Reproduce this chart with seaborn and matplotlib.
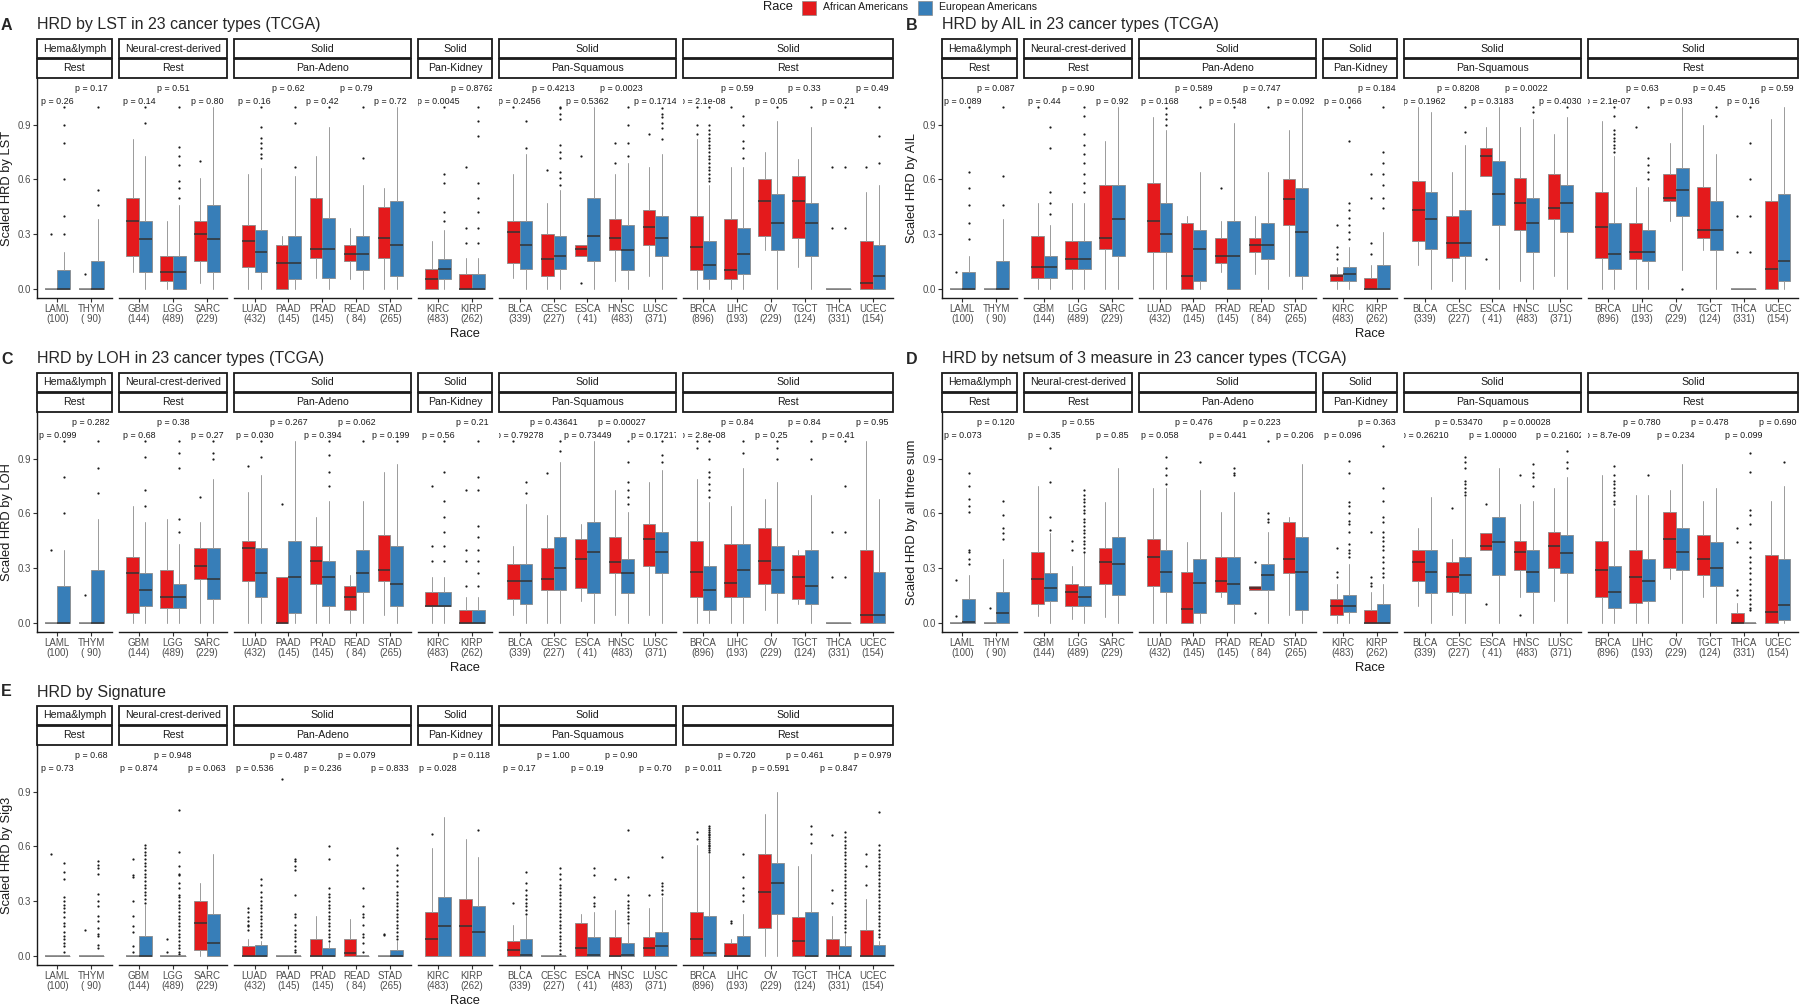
import seaborn as sns
import matplotlib.pyplot as plt
from matplotlib.patches import Rectangle

# ---- categories ----
cancers = ["LAML", "THYM", "GBM", "LGG", "SARC", "LUAD", "PAAD", "PRAD", "READ", "STAD",
           "KIRC", "KIRP", "BLCA", "CESC", "ESCA", "HNSC", "LUSC",
           "BRCA", "LIHC", "OV", "TGCT", "THCA", "UCEC"]
counts = [100, 90, 144, 489, 229, 432, 145, 145, 84, 265, 483, 262,
          339, 227, 41, 483, 371, 896, 193, 229, 124, 331, 154]
strip_top = ["Hema&lymph", "Neural-crest-derived", "Solid", "Solid", "Solid", "Solid"]
strip_bottom = ["Rest", "Rest", "Pan-Adeno", "Pan-Kidney", "Pan-Squamous", "Rest"]
group_sizes = [2, 3, 5, 2, 5, 6]

# box stats per cancer: (whisker low, q1, median, q3, whisker high)
# ---- A: LST ----
lst_aa = [(0, 0, 0, 0, 0), (0, 0, 0, 0, 0), (0.09, 0.18, 0.37, 0.50, 0.82), (0, 0.04, 0.09, 0.18, 0.37),
          (0.03, 0.15, 0.30, 0.37, 0.61), (0, 0.12, 0.26, 0.35, 0.63), (0, 0, 0.14, 0.24, 0.29),
          (0.06, 0.17, 0.22, 0.50, 0.73), (0.05, 0.15, 0.19, 0.24, 0.33), (0, 0.17, 0.28, 0.45, 0.55),
          (0, 0, 0.055, 0.11, 0.26), (0, 0, 0, 0.08, 0.17), (0.06, 0.14, 0.31, 0.37, 0.63),
          (0, 0.07, 0.16, 0.30, 0.47), (0.18, 0.18, 0.22, 0.24, 0.24), (0.04, 0.21, 0.28, 0.38, 0.63),
          (0.07, 0.24, 0.34, 0.43, 0.67), (0, 0.10, 0.23, 0.40, 0.82), (0, 0.05, 0.10, 0.38, 0.67),
          (0.21, 0.29, 0.48, 0.60, 0.75), (0.12, 0.28, 0.48, 0.62, 0.71), (0, 0, 0, 0, 0),
          (0, 0, 0.03, 0.26, 0.53)]
lst_ea = [(0, 0, 0, 0.10, 0.20), (0, 0, 0, 0.15, 0.38), (0, 0.09, 0.27, 0.37, 0.73), (0, 0, 0.09, 0.18, 0.46),
          (0, 0.09, 0.27, 0.46, 1.0), (0, 0.09, 0.20, 0.32, 0.66), (0, 0.05, 0.14, 0.29, 0.62),
          (0, 0.06, 0.22, 0.39, 0.89), (0, 0.10, 0.19, 0.29, 0.57), (0, 0.07, 0.24, 0.48, 1.0),
          (0, 0.055, 0.11, 0.16, 0.32), (0, 0, 0, 0.08, 0.17), (0, 0.11, 0.24, 0.37, 0.74),
          (0, 0.11, 0.18, 0.29, 0.54), (0, 0.15, 0.29, 0.50, 1.0), (0, 0.10, 0.21, 0.35, 0.69),
          (0, 0.18, 0.28, 0.40, 0.74), (0, 0.05, 0.13, 0.26, 0.57), (0, 0.08, 0.19, 0.33, 0.67),
          (0, 0.21, 0.36, 0.52, 0.92), (0, 0.18, 0.36, 0.47, 0.89), (0, 0, 0, 0, 0),
          (0, 0, 0.07, 0.24, 0.57)]
lst_aa_out = {"LAML": [0.30], "THYM": [0.08], "SARC": [0.70], "KIRP": [0.25, 0.33, 0.67], "BLCA": [1.0],
              "CESC": [0.65], "ESCA": [0.03, 0.73], "HNSC": [0.69, 0.80], "LUSC": [0.85],
              "BRCA": [0.85, 0.90, 1.0], "LIHC": [1.0], "THCA": [0.33, 0.67], "UCEC": [0.67]}
lst_ea_out = {"LAML": [0.30, 0.40, 0.60, 0.80, 0.90, 1.0], "THYM": [0.46, 0.54, 1.0], "GBM": [0.91, 1.0],
              "LGG": [0.50, 0.55, 0.59, 0.68, 0.73, 0.78, 1.0],
              "LUAD": [0.72, 0.74, 0.77, 0.80, 0.83, 0.89, 1.0], "PAAD": [0.67, 0.91, 1.0],
              "PRAD": [1.0], "READ": [0.72, 1.0], "KIRC": [0.37, 0.42, 0.58, 0.63, 1.0],
              "KIRP": [0.25, 0.33, 0.42, 0.50, 0.58, 0.84, 0.92, 1.0], "BLCA": [0.77, 0.92],
              "CESC": [0.57, 0.61, 0.64, 0.72, 0.75, 0.79, 0.93, 0.96, 0.99, 1.0],
              "HNSC": [0.73, 0.80, 0.90, 1.0], "LUSC": [0.82, 0.88, 0.91, 0.94, 0.96, 0.99],
              "BRCA": [0.59, 0.61, 0.63, 0.65, 0.67, 0.69, 0.71, 0.73, 0.75, 0.77, 0.79, 0.81,
                       0.83, 0.85, 0.87, 0.90, 1.0],
              "LIHC": [0.72, 0.77, 0.81, 0.90, 0.95], "OV": [1.0], "TGCT": [1.0],
              "THCA": [0.33, 0.67, 1.0], "UCEC": [0.69, 0.84, 1.0]}
lst_p = ["0.26", "0.17", "0.14", "0.51", "0.80", "0.16", "0.62", "0.42", "0.79", "0.72", "0.0045",
         "0.8762", "0.2456", "0.4213", "0.5362", "0.0023", "0.1714", "2.1e-08", "0.59", "0.05",
         "0.33", "0.21", "0.49"]

# ---- B: AIL ----
ail_aa = [(0, 0, 0, 0, 0), (0, 0, 0, 0, 0), (0, 0.06, 0.12, 0.29, 0.47), (0, 0.11, 0.16, 0.26, 0.47),
          (0, 0.22, 0.28, 0.57, 0.81), (0, 0.20, 0.37, 0.58, 0.94), (0, 0, 0.07, 0.36, 0.40),
          (0.09, 0.14, 0.18, 0.28, 0.37), (0.08, 0.20, 0.24, 0.28, 0.40), (0.07, 0.35, 0.49, 0.60, 0.87),
          (0, 0.04, 0.07, 0.08, 0.12), (0, 0, 0, 0.06, 0.13), (0.13, 0.26, 0.43, 0.59, 1.0),
          (0.04, 0.17, 0.25, 0.40, 0.64), (0.62, 0.62, 0.73, 0.77, 0.89), (0.04, 0.32, 0.47, 0.61, 0.89),
          (0.07, 0.38, 0.44, 0.63, 0.85), (0, 0.17, 0.34, 0.53, 0.92), (0, 0.16, 0.20, 0.36, 0.56),
          (0.37, 0.48, 0.50, 0.63, 0.80), (0.21, 0.28, 0.32, 0.56, 0.90), (0, 0, 0, 0, 0),
          (0, 0, 0.11, 0.48, 0.93)]
ail_ea = [(0, 0, 0, 0.09, 0.18), (0, 0, 0, 0.15, 0.38), (0, 0.06, 0.12, 0.18, 0.35), (0, 0.11, 0.16, 0.26, 0.47),
          (0, 0.18, 0.38, 0.57, 1.0), (0, 0.20, 0.30, 0.47, 0.87), (0, 0.04, 0.22, 0.32, 0.64),
          (0, 0, 0.18, 0.37, 0.91), (0, 0.16, 0.24, 0.36, 0.64), (0, 0.07, 0.31, 0.55, 1.0),
          (0, 0.04, 0.08, 0.12, 0.23), (0, 0, 0, 0.13, 0.31), (0, 0.22, 0.38, 0.53, 0.97),
          (0, 0.18, 0.25, 0.43, 0.79), (0, 0.35, 0.52, 0.70, 1.0), (0, 0.20, 0.36, 0.50, 0.93),
          (0, 0.31, 0.47, 0.57, 0.94), (0, 0.11, 0.19, 0.36, 0.73), (0, 0.15, 0.20, 0.32, 0.56),
          (0.10, 0.40, 0.54, 0.66, 1.0), (0, 0.21, 0.32, 0.48, 0.74), (0, 0, 0, 0, 0),
          (0, 0.04, 0.15, 0.52, 1.0)]
ail_aa_out = {"LAML": [0.09], "GBM": [1.0], "PRAD": [0.55], "KIRC": [0.16, 0.19, 0.23, 0.35],
              "KIRP": [0.19, 0.25, 0.50, 0.63], "ESCA": [0.16], "LIHC": [0.89], "THCA": [0.20, 0.40]}
ail_ea_out = {"LAML": [0.27, 0.36, 0.46, 0.55, 0.64, 1.0], "THYM": [0.46, 0.62, 1.0],
              "GBM": [0.41, 0.47, 0.53, 0.77, 0.89],
              "LGG": [0.53, 0.58, 0.63, 0.69, 0.74, 0.79, 0.85, 0.95, 1.0],
              "LUAD": [0.90, 0.93, 0.96, 0.99], "PAAD": [1.0], "PRAD": [1.0], "READ": [1.0],
              "KIRC": [0.27, 0.31, 0.35, 0.39, 0.43, 0.47, 0.81, 1.0],
              "KIRP": [0.44, 0.50, 0.57, 0.63, 0.69, 0.75, 1.0], "CESC": [0.86, 1.0],
              "HNSC": [0.97, 1.0], "LUSC": [1.0],
              "BRCA": [0.75, 0.77, 0.79, 0.81, 0.83, 0.85, 0.87, 0.95, 1.0],
              "LIHC": [0.60, 0.64, 0.68, 0.72, 1.0], "OV": [0.0], "TGCT": [0.95, 1.0],
              "THCA": [0.20, 0.40, 0.60, 0.80, 1.0]}
ail_p = ["0.089", "0.087", "0.44", "0.90", "0.92", "0.168", "0.589", "0.548", "0.747", "0.092", "0.066",
         "0.184", "0.1962", "0.8208", "0.3183", "0.0022", "0.4030", "2.1e-07", "0.63", "0.93",
         "0.45", "0.16", "0.59"]

# ---- C: LOH ----
loh_aa = [(0, 0, 0, 0, 0), (0, 0, 0, 0, 0), (0, 0.05, 0.27, 0.36, 0.64), (0, 0.08, 0.14, 0.29, 0.57),
          (0, 0.24, 0.31, 0.41, 0.55), (0, 0.23, 0.41, 0.45, 0.72), (0, 0, 0, 0.25, 0.25),
          (0, 0.21, 0.34, 0.42, 0.58), (0, 0.07, 0.14, 0.20, 0.26), (0.04, 0.23, 0.29, 0.48, 0.83),
          (0, 0.09, 0.09, 0.17, 0.25), (0, 0, 0, 0.07, 0.14), (0.04, 0.13, 0.23, 0.32, 0.42),
          (0, 0.18, 0.24, 0.41, 0.59), (0.12, 0.19, 0.35, 0.46, 0.54), (0.04, 0.27, 0.33, 0.47, 0.73),
          (0.04, 0.31, 0.46, 0.54, 0.77), (0, 0.14, 0.28, 0.45, 0.79), (0, 0.14, 0.22, 0.43, 0.64),
          (0.07, 0.21, 0.34, 0.52, 0.68), (0.10, 0.13, 0.25, 0.37, 0.40), (0, 0, 0, 0, 0),
          (0, 0, 0.04, 0.40, 1.0)]
loh_ea = [(0, 0, 0, 0.20, 0.40), (0, 0, 0, 0.29, 0.57), (0, 0.09, 0.18, 0.27, 0.55), (0, 0.08, 0.14, 0.21, 0.43),
          (0, 0.13, 0.24, 0.41, 0.79), (0, 0.14, 0.27, 0.41, 0.81), (0, 0.05, 0.25, 0.45, 1.0),
          (0, 0.09, 0.25, 0.34, 0.67), (0, 0.17, 0.27, 0.40, 0.67), (0, 0.09, 0.21, 0.42, 0.87),
          (0, 0.09, 0.09, 0.17, 0.25), (0, 0, 0, 0.07, 0.14), (0, 0.10, 0.23, 0.32, 0.65),
          (0, 0.18, 0.30, 0.47, 0.88), (0, 0.16, 0.39, 0.55, 1.0), (0, 0.16, 0.27, 0.35, 0.61),
          (0, 0.27, 0.39, 0.50, 0.84), (0, 0.07, 0.18, 0.31, 0.66), (0, 0.14, 0.29, 0.43, 0.85),
          (0, 0.16, 0.29, 0.42, 0.77), (0, 0.10, 0.20, 0.40, 0.70), (0, 0, 0, 0, 0),
          (0, 0, 0.04, 0.28, 0.68)]
loh_aa_out = {"LAML": [0.40], "THYM": [0.15], "SARC": [0.69], "LUAD": [0.86], "PAAD": [0.65],
              "KIRC": [0.34, 0.42, 0.75], "KIRP": [0.20, 0.34, 0.40, 0.73], "BLCA": [1.0],
              "CESC": [0.82], "BRCA": [0.96, 1.0], "THCA": [0.25, 0.50]}
loh_ea_out = {"LAML": [0.60, 0.80, 1.0], "THYM": [0.71, 0.85, 1.0], "GBM": [0.64, 0.73, 0.91, 1.0],
              "LGG": [0.50, 0.57, 0.85, 0.93, 1.0], "SARC": [0.90, 0.93, 1.0], "LUAD": [0.91, 1.0],
              "PRAD": [0.75, 0.83, 0.92, 1.0], "READ": [1.0], "STAD": [1.0],
              "KIRC": [0.34, 0.42, 0.50, 0.58, 0.67, 0.83, 1.0],
              "KIRP": [0.20, 0.27, 0.34, 0.40, 0.47, 0.53, 0.73, 0.80, 1.0], "BLCA": [0.71, 0.77],
              "CESC": [0.94, 1.0], "HNSC": [0.65, 0.69, 0.73, 0.77, 0.88, 1.0],
              "LUSC": [0.88, 0.92, 1.0], "BRCA": [0.69, 0.73, 0.76, 0.80, 0.83, 0.90, 1.0],
              "LIHC": [0.93, 1.0], "OV": [0.90, 0.96, 1.0], "TGCT": [0.90, 1.0],
              "THCA": [0.25, 0.50, 0.75, 1.0]}
loh_p = ["0.099", "0.282", "0.68", "0.38", "0.27", "0.030", "0.267", "0.394", "0.062", "0.199", "0.56",
         "0.21", "0.79278", "0.43641", "0.73449", "0.00027", "0.17217", "2.8e-08", "0.84", "0.25",
         "0.84", "0.41", "0.95"]

# ---- D: netsum of 3 measures ----
net_aa = [(0, 0, 0, 0, 0), (0, 0, 0, 0, 0), (0.035, 0.10, 0.24, 0.39, 0.75), (0.02, 0.09, 0.17, 0.21, 0.31),
          (0.03, 0.21, 0.33, 0.41, 0.66), (0, 0.20, 0.36, 0.46, 0.74), (0, 0, 0.075, 0.28, 0.44),
          (0.14, 0.17, 0.23, 0.36, 0.61), (0.18, 0.18, 0.19, 0.20, 0.20), (0.04, 0.27, 0.35, 0.55, 0.58),
          (0, 0.04, 0.09, 0.13, 0.21), (0, 0, 0, 0.07, 0.17), (0.09, 0.23, 0.33, 0.40, 0.52),
          (0.04, 0.17, 0.25, 0.33, 0.46), (0.40, 0.40, 0.42, 0.49, 0.49), (0.14, 0.29, 0.39, 0.45, 0.65),
          (0.12, 0.30, 0.42, 0.50, 0.74), (0, 0.14, 0.29, 0.45, 0.81), (0, 0.11, 0.25, 0.40, 0.70),
          (0.24, 0.30, 0.46, 0.61, 0.73), (0.14, 0.26, 0.35, 0.48, 0.67), (0, 0, 0, 0.05, 0.11),
          (0, 0, 0.06, 0.37, 0.67)]
net_ea = [(0, 0, 0.004, 0.13, 0.26), (0, 0, 0.05, 0.17, 0.35), (0, 0.12, 0.19, 0.27, 0.49),
          (0, 0.09, 0.14, 0.20, 0.38), (0, 0.15, 0.32, 0.47, 0.85), (0, 0.17, 0.28, 0.40, 0.74),
          (0, 0.05, 0.22, 0.35, 0.73), (0, 0.10, 0.21, 0.36, 0.72), (0, 0.18, 0.26, 0.32, 0.50),
          (0, 0.07, 0.28, 0.47, 0.87), (0, 0.06, 0.09, 0.15, 0.32), (0, 0, 0, 0.10, 0.21),
          (0, 0.16, 0.28, 0.40, 0.69), (0, 0.16, 0.26, 0.36, 0.69), (0, 0.26, 0.44, 0.58, 0.85),
          (0, 0.17, 0.28, 0.40, 0.67), (0, 0.27, 0.38, 0.48, 0.80), (0, 0.08, 0.17, 0.31, 0.63),
          (0, 0.12, 0.23, 0.35, 0.70), (0, 0.29, 0.39, 0.52, 0.87), (0, 0.20, 0.30, 0.44, 0.74),
          (0, 0, 0, 0, 0), (0, 0.015, 0.095, 0.35, 0.75)]
net_aa_out = {"LAML": [0.035, 0.235], "THYM": [0.08], "LGG": [0.40, 0.45], "READ": [0.05, 0.33],
              "KIRC": [0.25, 0.28, 0.41], "KIRP": [0.20, 0.22, 0.25, 0.50], "CESC": [0.63],
              "ESCA": [0.10, 0.65], "HNSC": [0.04, 0.81], "THCA": [0.15, 0.18, 0.44, 0.52]}
net_ea_out = {"LAML": [0.32, 0.35, 0.39, 0.40, 0.61, 0.64, 0.68, 0.75, 0.82],
              "THYM": [0.46, 0.49, 0.52, 0.59, 0.67], "GBM": [0.51, 0.58, 0.77, 0.96],
              "LGG": [0.39, 0.41, 0.43, 0.45, 0.47, 0.49, 0.51, 0.53, 0.55, 0.57, 0.60, 0.62, 0.64,
                      0.66, 0.68, 0.70, 0.73],
              "LUAD": [0.76, 0.81, 0.85, 0.91], "PAAD": [0.88], "PRAD": [0.81, 0.82, 0.85],
              "READ": [0.55, 0.57, 0.60, 1.0],
              "KIRC": [0.36, 0.38, 0.40, 0.43, 0.50, 0.54, 0.56, 0.60, 0.64, 0.66, 0.82, 0.89],
              "KIRP": [0.25, 0.27, 0.30, 0.33, 0.36, 0.40, 0.42, 0.45, 0.47, 0.50, 0.55, 0.58, 0.67,
                       0.74, 0.97],
              "CESC": [0.70, 0.72, 0.74, 0.76, 0.78, 0.85, 0.88, 0.91], "HNSC": [0.75, 0.80, 0.82, 0.87],
              "LUSC": [0.85, 0.88, 0.94],
              "BRCA": [0.65, 0.67, 0.70, 0.72, 0.74, 0.76, 0.78, 0.81, 0.86], "LIHC": [0.81],
              "THCA": [0.07, 0.08, 0.10, 0.13, 0.15, 0.18, 0.21, 0.24, 0.27, 0.30, 0.33, 0.36, 0.41,
                       0.44, 0.54, 0.59, 0.62, 0.83, 0.93],
              "UCEC": [0.88]}
net_p = ["0.073", "0.120", "0.35", "0.55", "0.85", "0.058", "0.476", "0.441", "0.223", "0.206", "0.096",
         "0.363", "0.26210", "0.53470", "1.00000", "0.00028", "0.21602", "8.7e-09", "0.780", "0.234",
         "0.478", "0.099", "0.690"]

# ---- E: Signature 3 ----
sig_aa = [(0, 0, 0, 0, 0), (0, 0, 0, 0, 0), (0, 0, 0, 0, 0), (0, 0, 0, 0, 0), (0, 0.03, 0.18, 0.30, 0.40),
          (0, 0, 0, 0.05, 0.09), (0, 0, 0, 0, 0), (0, 0, 0, 0.09, 0.22), (0, 0, 0.015, 0.09, 0.20),
          (0, 0, 0, 0, 0), (0, 0, 0.09, 0.24, 0.59), (0, 0, 0.16, 0.31, 0.64), (0, 0, 0.03, 0.08, 0.17),
          (0, 0, 0, 0, 0), (0, 0, 0.04, 0.18, 0.23), (0, 0, 0, 0.10, 0.25), (0, 0, 0.04, 0.10, 0.26),
          (0, 0, 0.09, 0.24, 0.61), (0, 0, 0, 0.07, 0.09), (0, 0.15, 0.35, 0.56, 0.78),
          (0, 0, 0.08, 0.21, 0.49), (0, 0, 0, 0.09, 0.22), (0, 0, 0, 0.14, 0.31)]
sig_ea = [(0, 0, 0, 0, 0), (0, 0, 0, 0, 0), (0, 0, 0, 0.11, 0.28), (0, 0, 0, 0, 0), (0, 0, 0.07, 0.23, 0.56),
          (0, 0, 0, 0.06, 0.08), (0, 0, 0, 0, 0), (0, 0, 0, 0.04, 0.07), (0, 0, 0, 0, 0),
          (0, 0, 0, 0.03, 0.08), (0, 0, 0.16, 0.32, 0.76), (0, 0, 0.13, 0.27, 0.54),
          (0, 0, 0.004, 0.09, 0.22), (0, 0, 0, 0, 0), (0, 0, 0.004, 0.10, 0.24), (0, 0, 0.004, 0.07, 0.17),
          (0, 0, 0.055, 0.13, 0.32), (0, 0, 0.015, 0.22, 0.56), (0, 0, 0, 0.11, 0.23),
          (0, 0.23, 0.40, 0.51, 0.90), (0, 0, 0, 0.24, 0.56), (0, 0, 0, 0.05, 0.12), (0, 0, 0, 0.06, 0.08)]
sig_aa_out = {"LAML": [0.56], "THYM": [0.14], "GBM": [0.02, 0.05, 0.13, 0.16, 0.22, 0.30, 0.43, 0.44, 0.53],
              "LGG": [0.02, 0.09], "LUAD": [0.14, 0.16, 0.17, 0.19, 0.21, 0.24, 0.26], "PAAD": [0.97],
              "STAD": [0.115, 0.12], "KIRC": [0.67], "BLCA": [0.29], "HNSC": [0.42], "LUSC": [0.33],
              "BRCA": [0.64, 0.68], "LIHC": [0.18, 0.19], "THCA": [0.29, 0.36, 0.66],
              "UCEC": [0.39, 0.49, 0.56]}
sig_ea_out = {"LAML": [0.02, 0.05, 0.07, 0.09, 0.11, 0.13, 0.16, 0.18, 0.21, 0.24, 0.26, 0.28, 0.30, 0.32,
                       0.42, 0.46, 0.51],
              "THYM": [0.04, 0.06, 0.11, 0.12, 0.15, 0.19, 0.22, 0.27, 0.30, 0.34, 0.45, 0.48, 0.50, 0.52],
              "GBM": [0.29, 0.31, 0.33, 0.35, 0.37, 0.39, 0.41, 0.43, 0.45, 0.47, 0.49, 0.51, 0.53, 0.55,
                      0.57, 0.59, 0.61],
              "LGG": [0.01, 0.02, 0.04, 0.06, 0.08, 0.10, 0.12, 0.14, 0.16, 0.18, 0.20, 0.22, 0.24, 0.26,
                      0.28, 0.30, 0.32, 0.33, 0.37, 0.40, 0.44, 0.45, 0.49, 0.57, 0.80],
              "LUAD": [0.10, 0.12, 0.14, 0.16, 0.18, 0.20, 0.22, 0.24, 0.26, 0.28, 0.30, 0.32, 0.35, 0.39, 0.42],
              "PAAD": [0.02, 0.03, 0.05, 0.08, 0.10, 0.12, 0.14, 0.17, 0.21, 0.23, 0.33, 0.47, 0.49, 0.52, 0.53],
              "PRAD": [0.08, 0.10, 0.12, 0.14, 0.16, 0.18, 0.20, 0.22, 0.24, 0.26, 0.28, 0.30, 0.32, 0.34,
                       0.37, 0.53, 0.60],
              "READ": [0.02, 0.07, 0.10, 0.12, 0.17, 0.21, 0.23, 0.27, 0.37],
              "STAD": [0.09, 0.11, 0.13, 0.15, 0.17, 0.19, 0.21, 0.23, 0.25, 0.27, 0.29, 0.31, 0.33, 0.35,
                       0.38, 0.41, 0.44, 0.47, 0.50, 0.55, 0.59],
              "KIRP": [0.69],
              "BLCA": [0.23, 0.25, 0.27, 0.29, 0.31, 0.33, 0.36, 0.40, 0.46],
              "CESC": [0.01, 0.03, 0.05, 0.07, 0.09, 0.11, 0.13, 0.15, 0.17, 0.19, 0.21, 0.23, 0.25, 0.27,
                       0.29, 0.31, 0.33, 0.35, 0.37, 0.39, 0.42, 0.45, 0.48],
              "ESCA": [0.27, 0.29, 0.32, 0.44, 0.48],
              "HNSC": [0.18, 0.20, 0.22, 0.24, 0.26, 0.28, 0.30, 0.33, 0.43, 0.69],
              "LUSC": [0.34, 0.36, 0.38, 0.40, 0.54],
              "BRCA": [0.57, 0.58, 0.59, 0.60, 0.61, 0.62, 0.63, 0.64, 0.65, 0.66, 0.67, 0.68, 0.69, 0.70, 0.71],
              "LIHC": [0.30, 0.33, 0.37, 0.43, 0.56], "TGCT": [0.62, 0.67, 0.71],
              "THCA": [0.13, 0.15, 0.17, 0.19, 0.21, 0.23, 0.25, 0.27, 0.29, 0.31, 0.33, 0.35, 0.37, 0.39,
                       0.41, 0.43, 0.45, 0.47, 0.49, 0.51, 0.53, 0.55, 0.57, 0.59, 0.61, 0.63, 0.65, 0.68],
              "UCEC": [0.10, 0.12, 0.14, 0.16, 0.18, 0.20, 0.22, 0.24, 0.26, 0.28, 0.30, 0.32, 0.34, 0.36,
                       0.38, 0.40, 0.42, 0.44, 0.46, 0.48, 0.50, 0.52, 0.54, 0.56, 0.58, 0.61, 0.79]}
sig_p = ["0.73", "0.68", "0.874", "0.948", "0.063", "0.536", "0.487", "0.236", "0.079", "0.833", "0.028",
         "0.118", "0.17", "1.00", "0.19", "0.90", "0.70", "0.011", "0.720", "0.591", "0.461", "0.847",
         "0.979"]

# ---- style ----
sns.set_theme(style="ticks")
plt.rcParams['font.family'] = ['Liberation Sans', 'DejaVu Sans']
pal = sns.color_palette("Set1")
c_aa, c_ea = pal[0], pal[1]
GREY = "#4D4D4D"

W, H = 1800, 1006
fig = plt.figure(figsize=(18, 10.06), dpi=100)


def fx(px):
    return px / W


def fy(py):
    return 1 - py / H


def stats_list(rows, outs, names):
    res = []
    for (lo, q1, med, q3, hi), nm in zip(rows, names):
        res.append(dict(whislo=lo, q1=q1, med=med, q3=q3, whishi=hi, fliers=outs.get(nm, [])))
    return res


def draw_panel(x0, off, letter, title, ylabel, aa, ea, aa_out, ea_out, pvals):
    top, bottom = 78 + off, 298 + off
    fig.text(fx(x0 - 36), fy(25 + off), letter, fontsize=11.5, fontweight='bold', va='center')
    fig.text(fx(x0), fy(25 + off), title, fontsize=11.5, va='center')
    fig.text(fx(x0 - 30), fy((top + bottom) / 2), ylabel, fontsize=9.3, rotation=90,
             ha='center', va='center', color='#1A1A1A')
    fig.text(fx(x0 + 428), fy(334 + off), "Race", fontsize=9.3, ha='center', va='center', color='#1A1A1A')

    gap = 7
    unit = (856 - 5 * gap) / (23 + 6 * 0.2)
    left = x0
    start = 0
    for g, n in enumerate(group_sizes):
        w = (n + 0.2) * unit
        ax = fig.add_axes([fx(left), fy(bottom), w / W, (bottom - top) / H])
        names = cancers[start:start + n]
        pos = list(range(n))
        for rows, outs, col, shift in [(aa, aa_out, c_aa, -0.1875), (ea, ea_out, c_ea, 0.1875)]:
            st = stats_list(rows[start:start + n], outs, names)
            art = ax.bxp(st, positions=[p + shift for p in pos], widths=0.375, patch_artist=True,
                         showcaps=False,
                         boxprops=dict(facecolor=col, edgecolor='#8a8a8a', linewidth=0.6),
                         medianprops=dict(color='#333333', linewidth=1.1),
                         whiskerprops=dict(color='#9a9a9a', linewidth=0.7),
                         flierprops=dict(marker='o', markersize=1.6, markerfacecolor='#1A1A1A',
                                         markeredgecolor='none'))
            # flat boxes (all values equal) look like a grey bar
            for s, m in zip(st, art['medians']):
                if s['q1'] == s['q3']:
                    m.set_color('#7a7a7a')
        for i, nm in enumerate(names):
            yv = 1.03 if i % 2 == 0 else 1.10
            ax.text(i, yv, "p = " + pvals[start + i], fontsize=6.4, ha='center', va='center',
                    color='#1A1A1A', clip_on=True)
        ax.set_xlim(-0.6, n - 0.4)
        ax.set_ylim(-0.052, 1.157)
        ax.set_xticks(pos)
        ax.set_xticklabels([f"{nm}\n({counts[start + i]:3d})" for i, nm in enumerate(names)],
                           fontsize=7, color=GREY, linespacing=1.0)
        ax.tick_params(axis='x', length=3, width=0.8, pad=1.5, color='#333333')
        ax.spines['bottom'].set_linewidth(1.0)
        ax.spines['bottom'].set_color('#1A1A1A')
        if g == 0:
            ax.set_yticks([0, 0.3, 0.6, 0.9])
            ax.set_yticklabels(["0.0", "0.3", "0.6", "0.9"], fontsize=7, color=GREY)
            ax.tick_params(axis='y', length=3, width=0.8, pad=1.5, color='#333333')
            ax.spines['left'].set_linewidth(1.0)
            ax.spines['left'].set_color('#1A1A1A')
            sns.despine(ax=ax)
        else:
            ax.set_yticks([])
            sns.despine(ax=ax, left=True)
        ax.set_facecolor('white')

        # strips
        for label, y1, y2 in [(strip_top[g], top - 39, top - 20), (strip_bottom[g], top - 19.5, top - 0.5)]:
            fig.add_artist(Rectangle((fx(left), fy(y2)), w / W, (y2 - y1) / H, transform=fig.transFigure,
                                     facecolor='white', edgecolor='#1A1A1A', linewidth=1.3))
            fig.text(fx(left + w / 2), fy((y1 + y2) / 2), label, fontsize=7.6, ha='center', va='center',
                     color='#1A1A1A')
        left += w + gap
        start += n


panels = [
    (37, 0, "A", "HRD by LST in 23 cancer types (TCGA)", "Scaled HRD by LST",
     lst_aa, lst_ea, lst_aa_out, lst_ea_out, lst_p),
    (942, 0, "B", "HRD by AIL in 23 cancer types (TCGA)", "Scaled HRD by AIL",
     ail_aa, ail_ea, ail_aa_out, ail_ea_out, ail_p),
    (37, 334, "C", "HRD by LOH in 23 cancer types (TCGA)", "Scaled HRD by LOH",
     loh_aa, loh_ea, loh_aa_out, loh_ea_out, loh_p),
    (942, 334, "D", "HRD by netsum of 3 measure in 23 cancer types (TCGA)", "Scaled HRD by all three sum",
     net_aa, net_ea, net_aa_out, net_ea_out, net_p),
    (37, 667, "E", "HRD by Signature", "Scaled HRD by Sig3",
     sig_aa, sig_ea, sig_aa_out, sig_ea_out, sig_p),
]
for p in panels:
    draw_panel(*p)

# legend at the top
fig.text(fx(763), fy(7.5), "Race", fontsize=9.3, va='center', color='#1A1A1A')
for x, col, lab in [(802, c_aa, "African Americans"), (918, c_ea, "European Americans")]:
    fig.add_artist(Rectangle((fx(x), fy(14.5)), 14 / W, 14 / H, transform=fig.transFigure,
                             facecolor=col, edgecolor='#8a8a8a', linewidth=0.5))
    fig.text(fx(x + 21), fy(7.5), lab, fontsize=7.6, va='center', color='#1A1A1A')

fig.savefig("out.png", dpi=100, facecolor='white')
